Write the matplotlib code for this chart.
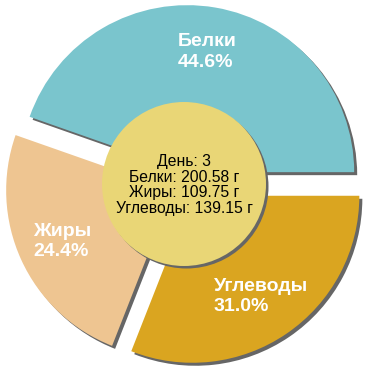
import matplotlib.pyplot as plt
from matplotlib.patches import Circle

plt.rcParams['font.family'] = ['Liberation Sans', 'DejaVu Sans']

names = ['Белки', 'Жиры', 'Углеводы']
grams = [200.58, 109.75, 139.15]
colors = ['#7AC5CD', '#EEC591', '#DAA520']
day = 3

total = sum(grams)
labels = ['%s\n%.1f%%' % (n, g / total * 100) for n, g in zip(names, grams)]
explode = [0.078] * len(grams)

fig = plt.figure(figsize=(3.7, 3.7), dpi=100)
ax = fig.add_axes([0, 0, 1, 1])

R = 167.0  # pie radius in pixels
sh = 3.0 / R

# shadow
ax.pie(grams, explode=explode, startangle=0, counterclock=True,
       colors=['#666666'] * 3, center=(sh, -sh), radius=1,
       wedgeprops=dict(linewidth=0))

wedges, texts = ax.pie(grams, explode=explode, startangle=0, counterclock=True,
                       colors=colors, labels=labels, labeldistance=0.73,
                       radius=1, wedgeprops=dict(linewidth=0),
                       textprops=dict(color='white', fontsize=14,
                                      fontweight='bold', linespacing=1.25))
for t in texts:
    t.set_ha('center')
    t.set_multialignment('left')

cx, cy = -1 / R, 1 / R
ax.add_patch(Circle((cx + 2.5 / R, cy - 2.5 / R), 82 / R, color='#666666', lw=0))
ax.add_patch(Circle((cx, cy), 82 / R, color='#E9D676', lw=0))

info = 'День: %d\n' % day + '\n'.join('%s: %.2f г' % (n, g) for n, g in zip(names, grams))
ax.text(cx, cy - 1 / R, info, ha='center', va='center', fontsize=11.3,
        color='black', linespacing=1.05)

lim = 185 / R
ax.set_xlim(-lim, lim)
ax.set_ylim(-lim, lim)
ax.set_aspect('equal')
ax.axis('off')

fig.savefig('out.png', dpi=100)
